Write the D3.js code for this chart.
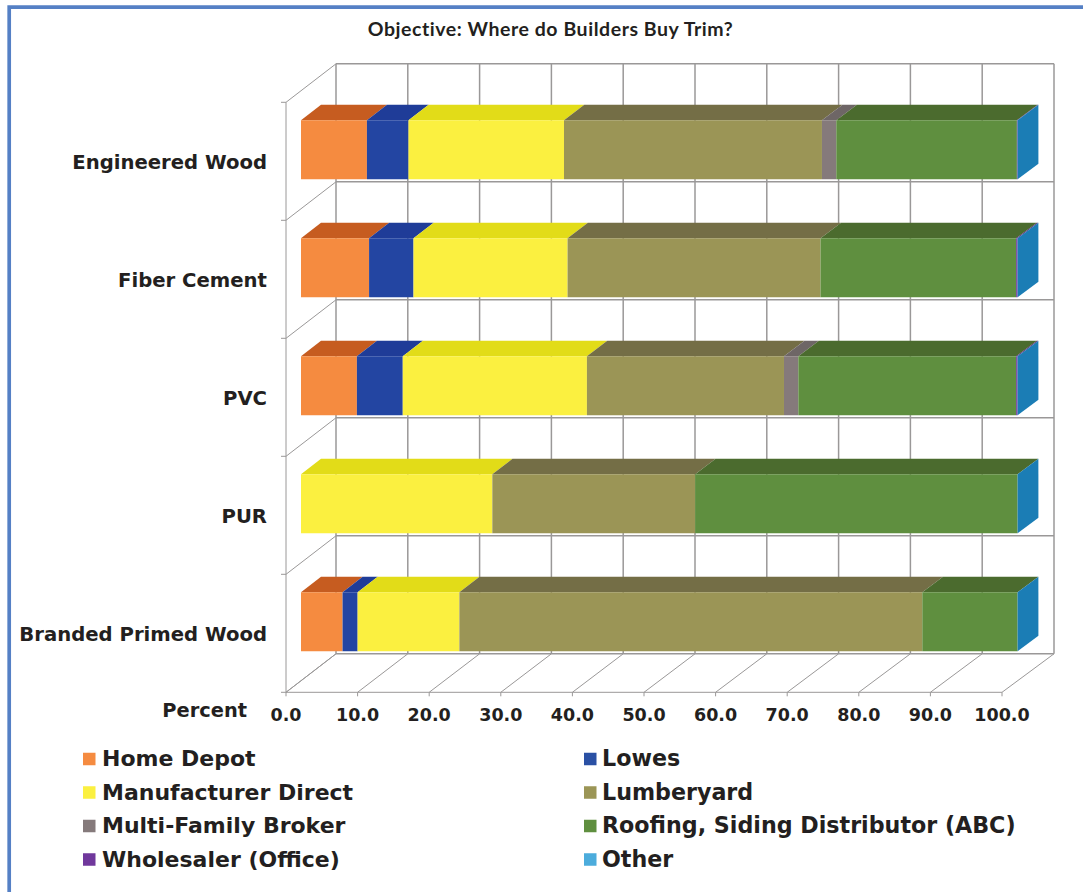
<!DOCTYPE html>
<html>
<head>
<meta charset="utf-8">
<script src="https://cdn.jsdelivr.net/npm/d3@7"></script>
<style>
  html, body { margin: 0; padding: 0; background: #fff; }
  svg { display: block; }
  text { fill: #231f20; font-family: "DejaVu Sans", sans-serif; font-weight: bold; }
</style>
</head>
<body>
<svg id="chart" width="1083" height="892"></svg>
<script>
const categories = ["Engineered Wood", "Fiber Cement", "PVC", "PUR", "Branded Primed Wood"];
const seriesNames = ["Home Depot", "Lowes", "Manufacturer Direct", "Lumberyard",
  "Multi-Family Broker", "Roofing, Siding Distributor (ABC)", "Wholesaler (Office)", "Other"];

const homeDepot    = [9.2, 9.5, 7.8, 0, 5.8];
const lowes        = [5.8, 6.2, 6.4, 0, 2.1];
const manufacturer = [21.7, 21.5, 25.7, 26.7, 14.2];
const lumberyard   = [36.0, 35.3, 27.5, 28.3, 64.6];
const multiFamily  = [2.0, 0, 2.0, 0, 0];
const roofing      = [25.2, 27.3, 30.4, 45.0, 13.3];
const wholesaler   = [0.1, 0.2, 0.2, 0, 0];
const other        = [0, 0, 0, 0, 0];
const seriesValues = [homeDepot, lowes, manufacturer, lumberyard, multiFamily, roofing, wholesaler, other];

const frontColors = ["#f58b40", "#2345a2", "#fbf040", "#9b9556", "#857a7b", "#5f8f3f", "#70389c", "#1b7db5"];
const topColors   = ["#c65c20", "#1f3c98", "#e2dc18", "#746e46", "#6e6666", "#4b6b2e", "#54287a", "#14608c"];
const legendColors = ["#f58b40", "#2a50a4", "#fbf040", "#9b9556", "#857a7b", "#5f8f3f", "#70389c", "#4cacdc"];

const svg = d3.select("#chart");

// Projection of the 3-D box: the value axis runs along a near edge and a far edge,
// and the depth fraction slides a point between them
const xNear = d3.scaleLinear().domain([0, 100]).range([286, 1002]);
const xFar = d3.scaleLinear().domain([0, 100]).range([336, 1054]);
const band = d3.scaleBand().domain(categories).range([102.3, 692.3]);
const depthY = d3.scaleLinear().domain([0, 1]).range([0, -38.5]);
const px = (v, d) => d3.interpolateNumber(xNear(v), xFar(v))(d);
const py = (y, d) => y + depthY(d);
const gridColor = "#9a9898";
const [topY, floorY] = band.range();

// Outer frame
svg.append("path")
  .attr("d", "M9.2,892V7.2H1083")
  .attr("fill", "none").attr("stroke", "#5580c5").attr("stroke-width", 3.7);

// Walls and floor
const grid = svg.append("g").attr("fill", "none").attr("stroke", gridColor);
const ticks = xNear.ticks(10);
ticks.forEach(t => {
  grid.append("line").attr("x1", px(t, 1)).attr("x2", px(t, 1))
    .attr("y1", py(topY, 1)).attr("y2", py(floorY, 1)).attr("stroke-width", 1.5);
  grid.append("line").attr("x1", px(t, 0)).attr("x2", px(t, 1))
    .attr("y1", py(floorY, 0)).attr("y2", py(floorY, 1)).attr("stroke-width", 1);
  grid.append("line").attr("x1", px(t, 0)).attr("x2", px(t, 0))
    .attr("y1", floorY).attr("y2", floorY + 4).attr("stroke-width", 1);
});
const levels = categories.map(c => band(c)).concat(floorY);
levels.forEach(y => {
  grid.append("line").attr("x1", px(0, 1)).attr("x2", px(100, 1))
    .attr("y1", py(y, 1)).attr("y2", py(y, 1)).attr("stroke-width", 1.5);
  grid.append("line").attr("x1", px(0, 0)).attr("x2", px(0, 1))
    .attr("y1", py(y, 0)).attr("y2", py(y, 1)).attr("stroke-width", 1);
  grid.append("line").attr("x1", px(0, 0) - 5).attr("x2", px(0, 0))
    .attr("y1", y).attr("y2", y).attr("stroke-width", 1);
});
grid.append("line").attr("x1", px(0, 0)).attr("x2", px(0, 0))
  .attr("y1", topY).attr("y2", floorY).attr("stroke-width", 1);
grid.append("line").attr("x1", px(0, 0)).attr("x2", px(100, 0))
  .attr("y1", floorY).attr("y2", floorY).attr("stroke-width", 1);

// Stacked bars, sitting between 30% and 70% of the depth
const [nearD, farD] = [0.3, 0.7];
const stacks = d3.stack()
  .keys(d3.range(seriesNames.length))
  .value((row, k) => row[k])(categories.map((c, i) => seriesValues.map(s => s[i])));

const poly = pts => "M" + pts.map(p => p.join(",")).join("L") + "Z";
const bars = svg.append("g");
categories.forEach((cat, i) => {
  const mid = band(cat) + band.bandwidth() / 2;
  const half = band.bandwidth() / 4;
  const frontTop = py(mid - half, nearD), frontBottom = py(mid + half, nearD);
  const backTop = py(mid - half, farD), backBottom = py(mid + half, farD);
  const g = bars.append("g");
  stacks.forEach((layer, k) => {
    const [v0, v1] = layer[i];
    if (v1 <= v0) return;
    g.append("path").attr("fill", topColors[k]).attr("d", poly([
      [px(v0, nearD), frontTop], [px(v1, nearD), frontTop],
      [px(v1, farD), backTop], [px(v0, farD), backTop]]));
  });
  stacks.forEach((layer, k) => {
    const [v0, v1] = layer[i];
    if (v1 <= v0) return;
    g.append("path").attr("fill", frontColors[k]).attr("d", poly([
      [px(v0, nearD), frontTop], [px(v1, nearD), frontTop],
      [px(v1, nearD), frontBottom], [px(v0, nearD), frontBottom]]));
  });
  // End cap of the stack takes the colour of the last series
  const end = stacks[stacks.length - 1][i][1];
  g.append("path").attr("fill", frontColors[frontColors.length - 1]).attr("d", poly([
    [px(end, nearD), frontTop], [px(end, farD), backTop],
    [px(end, farD), backBottom], [px(end, nearD), frontBottom]]));

  svg.append("text").attr("x", 267).attr("y", mid + 8)
    .attr("text-anchor", "end").attr("font-size", 19.65).text(cat);
});

// Value axis labels
svg.append("g").selectAll("text").data(ticks).join("text")
  .attr("x", d => xNear(d)).attr("y", 720.5).attr("text-anchor", "middle")
  .attr("font-size", 17.5).text(d3.format(".1f"));
svg.append("text").attr("x", 247).attr("y", 717).attr("text-anchor", "end")
  .attr("font-size", 19.4).text("Percent");

// Title
svg.append("text").attr("x", 550.5).attr("y", 36).attr("text-anchor", "middle")
  .style("font-family", "Lato, sans-serif").style("letter-spacing", "0.55px")
  .attr("font-size", 19.5).text("Objective: Where do Builders Buy Trim?");

// Legend in two columns
const swatchX = [83, 584], labelX = [102, 602], legendY = [759, 792.5, 826, 859.5];
const labelSize = [22, 22.2];
const legend = svg.append("g");
seriesNames.forEach((name, k) => {
  const col = k % 2, row = Math.floor(k / 2);
  legend.append("rect").attr("x", swatchX[col]).attr("y", legendY[row] - 6.25)
    .attr("width", 12.5).attr("height", 12.5).attr("fill", legendColors[k]);
  legend.append("text").attr("x", labelX[col]).attr("y", legendY[row] + 7)
    .attr("font-size", labelSize[col]).text(name);
});
</script>
</body>
</html>
